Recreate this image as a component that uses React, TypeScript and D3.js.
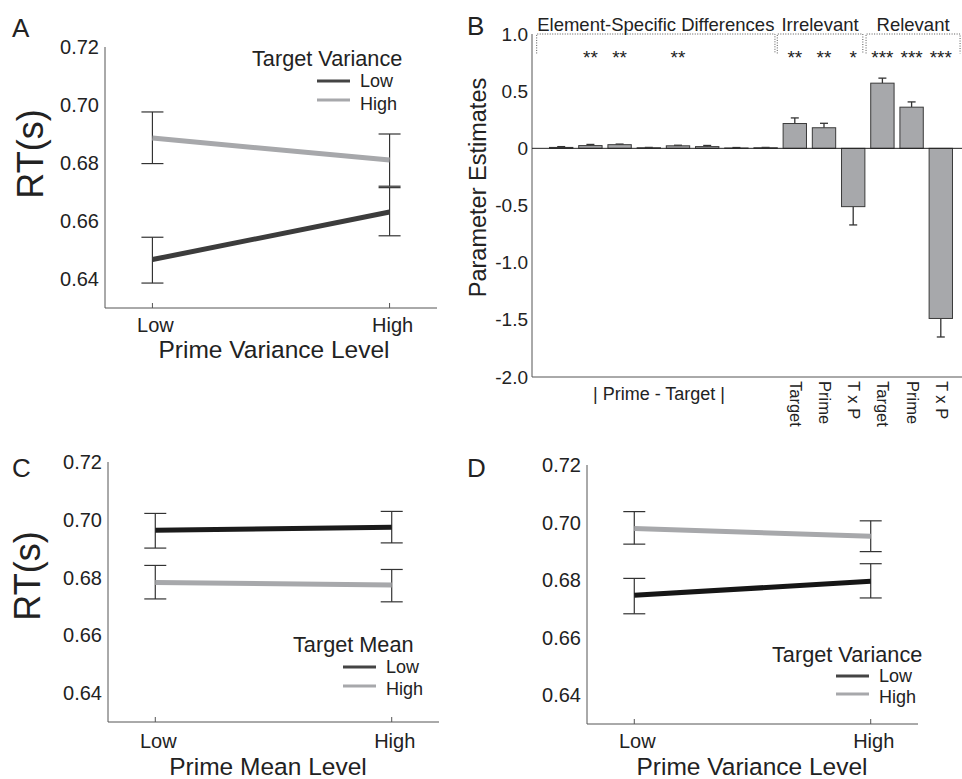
import * as d3 from 'd3'

const FONT = '"Liberation Sans", Arial, Helvetica, sans-serif'
const INK = '#222'
const AXIS = '#555'
const ERR = '#333'
const GRAY = '#a7a8ab'

// ---- line panels (RT by prime level, split by target level) ----
const LEVELS = ['Low', 'High']
const LEVEL_X = [1, 2]
const RT_TICKS = [0.64, 0.66, 0.68, 0.7, 0.72]

const A_LOW_MEAN = [0.6467, 0.6631]
const A_LOW_LO = [0.6386, 0.6549]
const A_LOW_HI = [0.6544, 0.6715]
const A_HIGH_MEAN = [0.6886, 0.681]
const A_HIGH_LO = [0.6798, 0.672]
const A_HIGH_HI = [0.6976, 0.69]

const C_LOW_MEAN = [0.6964, 0.6974]
const C_LOW_LO = [0.6902, 0.692]
const C_LOW_HI = [0.7022, 0.7029]
const C_HIGH_MEAN = [0.6783, 0.6774]
const C_HIGH_LO = [0.6726, 0.6716]
const C_HIGH_HI = [0.6842, 0.6828]

const D_LOW_MEAN = [0.6747, 0.6796]
const D_LOW_LO = [0.6683, 0.6738]
const D_LOW_HI = [0.6806, 0.6857]
const D_HIGH_MEAN = [0.6979, 0.6952]
const D_HIGH_LO = [0.6925, 0.6899]
const D_HIGH_HI = [0.7038, 0.7006]

// ---- panel B: parameter estimates ----
const B_VALUES = [0.008, 0.024, 0.032, 0.005, 0.022, 0.015, 0.003, 0.005, 0.217, 0.18, -0.51, 0.57, 0.36, -1.488]
const B_ERRORS = [0.007, 0.01, 0.005, 0.003, 0.005, 0.01, 0.004, 0.003, 0.049, 0.039, 0.16, 0.044, 0.046, 0.162]
const B_SIG = ['', '**', '**', '', '**', '', '', '', '**', '**', '*', '***', '***', '***']
const B_GROUPS = ['Element-Specific Differences', 'Irrelevant', 'Relevant']
const B_GROUP_SPAN = [[0.16, 8.32], [8.4, 11.33], [11.44, 14.66]]
const B_BAR_LABELS = ['', '', '', '', '', '', '', '', 'Target', 'Prime', 'T x P', 'Target', 'Prime', 'T x P']
const B_TICKS = [-2, -1.5, -1, -0.5, 0, 0.5, 1]

type Series = { mean: number[]; lo: number[]; hi: number[]; color: string }
type Box = { left: number; top: number; bottom: number; right: number }

function LinePanel(props: {
  box: Box
  letter: string
  letterX: number
  letterY: number
  yLabel?: { x: number; y: number }
  xTitle: string
  xTitleX: number
  tickY: number
  titleY: number
  series: Series[]
  legend: { title: string; tx: number; ty: number; lx: number; ly: number[]; textY: number[]; clip?: number }
}) {
  const { box, series, legend } = props
  const x = d3.scaleLinear().domain([0.8, 2.2]).range([box.left, box.right])
  const y = d3.scaleLinear().domain([0.63, 0.72]).range([box.bottom, box.top])
  const line = d3.line<number>().x((_, i) => x(LEVEL_X[i])).y(d => y(d))
  const clipId = 'clip-' + props.letter
  return (
    <g fontFamily={FONT} fill={INK}>
      <text x={props.letterX} y={props.letterY} fontSize={26}>{props.letter}</text>
      <line x1={box.left} x2={box.left} y1={box.top} y2={box.bottom} stroke={AXIS} />
      <line x1={box.left} x2={box.right} y1={box.bottom} y2={box.bottom} stroke={AXIS} />
      {RT_TICKS.map(t => (
        <text key={t} x={box.left - 6} y={y(t)} dy="0.35em" textAnchor="end" fontSize={20}>
          {t.toFixed(2)}
        </text>
      ))}
      {LEVELS.map((l, i) => (
        <g key={l}>
          <line x1={x(LEVEL_X[i])} x2={x(LEVEL_X[i])} y1={box.bottom} y2={box.bottom - 5} stroke={AXIS} />
          <text x={x(LEVEL_X[i]) + 3} y={props.tickY} textAnchor="middle" fontSize={20}>{l}</text>
        </g>
      ))}
      <text x={props.xTitleX} y={props.titleY} textAnchor="middle" fontSize={24.5}>{props.xTitle}</text>
      {props.yLabel && (
        <text transform={`translate(${props.yLabel.x},${props.yLabel.y}) rotate(-90)`} textAnchor="middle" fontSize={36}>
          RT(s)
        </text>
      )}
      {series.map((s, si) => (
        <g key={si}>
          {s.mean.map((_, i) => {
            const cx = x(LEVEL_X[i])
            return (
              <g key={i} stroke={ERR} strokeWidth={1.2}>
                <line x1={cx} x2={cx} y1={y(s.lo[i])} y2={y(s.hi[i])} />
                <line x1={cx - 11} x2={cx + 11} y1={y(s.lo[i])} y2={y(s.lo[i])} />
                <line x1={cx - 11} x2={cx + 11} y1={y(s.hi[i])} y2={y(s.hi[i])} />
              </g>
            )
          })}
          <path d={line(s.mean) ?? ''} fill="none" stroke={s.color} strokeWidth={5} />
        </g>
      ))}
      {legend.clip && (
        <clipPath id={clipId}>
          <rect x={0} y={0} width={legend.clip} height={779} />
        </clipPath>
      )}
      <text x={legend.tx} y={legend.ty} fontSize={21.7} clipPath={legend.clip ? `url(#${clipId})` : undefined}>
        {legend.title}
      </text>
      {LEVELS.map((l, i) => (
        <g key={l}>
          <line x1={legend.lx} x2={legend.lx + 33} y1={legend.ly[i]} y2={legend.ly[i]}
            stroke={i === 0 ? '#444' : GRAY} strokeWidth={3} />
          <text x={legend.lx + 43} y={legend.textY[i]} fontSize={18}>{l}</text>
        </g>
      ))}
    </g>
  )
}

function BarPanel() {
  const left = 532
  const bottom = 377
  const x = d3.scaleLinear().domain([0, 15]).range([left, 970])
  const y = d3.scaleLinear().domain([-2, 1]).range([bottom, 34])
  const bw = x(0.8) - x(0)
  return (
    <g fontFamily={FONT} fill={INK}>
      <text x={467} y={35} fontSize={26}>B</text>
      <line x1={left} x2={left} y1={y(1)} y2={bottom} stroke={AXIS} />
      <line x1={left} x2={962} y1={bottom} y2={bottom} stroke={AXIS} />
      {B_TICKS.map(t => (
        <text key={t} x={left - 4} y={y(t)} dy="0.35em" textAnchor="end" fontSize={19}>
          {t === 0 ? '0' : t.toFixed(1)}
        </text>
      ))}
      <text transform={`translate(486,${(77 + 298) / 2}) rotate(-90)`} textAnchor="middle" fontSize={23.5}>
        Parameter Estimates
      </text>
      {B_VALUES.map((v, i) => {
        const cx = x(i + 1)
        const end = v + Math.sign(v) * B_ERRORS[i]
        return (
          <g key={i}>
            <line x1={cx} x2={cx} y1={y(v)} y2={y(end)} stroke={ERR} strokeWidth={1.3} />
            <line x1={cx - 4} x2={cx + 4} y1={y(end)} y2={y(end)} stroke={ERR} strokeWidth={1.3} />
            <rect x={cx - bw / 2} width={bw} y={Math.min(y(v), y(0))} height={Math.abs(y(v) - y(0))}
              fill={GRAY} stroke="#3a3a3a" strokeWidth={1} />
            {B_SIG[i] && (
              <text x={cx} y={64} textAnchor="middle" fontSize={19}>{B_SIG[i]}</text>
            )}
            {B_BAR_LABELS[i] && (
              <text transform={`translate(${cx - 5},381) rotate(90)`} fontSize={16.5}>{B_BAR_LABELS[i]}</text>
            )}
          </g>
        )
      })}
      <line x1={left} x2={962} y1={y(0)} y2={y(0)} stroke="#222" />
      {B_GROUPS.map((g, i) => {
        const [a, b] = B_GROUP_SPAN[i]
        return (
          <g key={g}>
            <path d={`M${x(a)},${y(0.83)}V${y(1)}H${x(b)}V${y(0.83)}`}
              fill="none" stroke="#555" strokeDasharray="1,1.5" />
            <text x={(x(a) + x(b)) / 2} y={31} textAnchor="middle" fontSize={18.5}>{g}</text>
          </g>
        )
      })}
      <text x={659} y={400} textAnchor="middle" fontSize={18}>| Prime - Target |</text>
    </g>
  )
}

export default function App() {
  return (
    <svg width={962} height={779} style={{ position: 'absolute', left: 0, top: 0, background: '#fff' }}>
      <rect width={962} height={779} fill="#fff" />
      <LinePanel
        box={{ left: 105, top: 47, bottom: 308, right: 437 }}
        letter="A" letterX={12} letterY={37}
        yLabel={{ x: 43, y: 154 }}
        xTitle="Prime Variance Level" xTitleX={274} tickY={332} titleY={358}
        series={[
          { mean: A_LOW_MEAN, lo: A_LOW_LO, hi: A_LOW_HI, color: '#3c3c3c' },
          { mean: A_HIGH_MEAN, lo: A_HIGH_LO, hi: A_HIGH_HI, color: GRAY },
        ]}
        legend={{ title: 'Target Variance', tx: 252, ty: 66, lx: 317, ly: [81, 100], textY: [87, 110] }}
      />
      <BarPanel />
      <LinePanel
        box={{ left: 108, top: 462, bottom: 722, right: 439 }}
        letter="C" letterX={12} letterY={477}
        yLabel={{ x: 40, y: 576 }}
        xTitle="Prime Mean Level" xTitleX={268} tickY={748} titleY={775}
        series={[
          { mean: C_LOW_MEAN, lo: C_LOW_LO, hi: C_LOW_HI, color: '#1b1b1b' },
          { mean: C_HIGH_MEAN, lo: C_HIGH_LO, hi: C_HIGH_HI, color: GRAY },
        ]}
        legend={{ title: 'Target Mean', tx: 293, ty: 652, lx: 343, ly: [667, 686], textY: [673, 695] }}
      />
      <LinePanel
        box={{ left: 587, top: 465, bottom: 724, right: 918 }}
        letter="D" letterX={467} letterY={477}
        xTitle="Prime Variance Level" xTitleX={752} tickY={748} titleY={775}
        series={[
          { mean: D_LOW_MEAN, lo: D_LOW_LO, hi: D_LOW_HI, color: '#161616' },
          { mean: D_HIGH_MEAN, lo: D_HIGH_LO, hi: D_HIGH_HI, color: GRAY },
        ]}
        legend={{ title: 'Target Variance', tx: 772, ty: 662, lx: 836, ly: [676, 694], textY: [682, 703], clip: 923 }}
      />
    </svg>
  )
}
